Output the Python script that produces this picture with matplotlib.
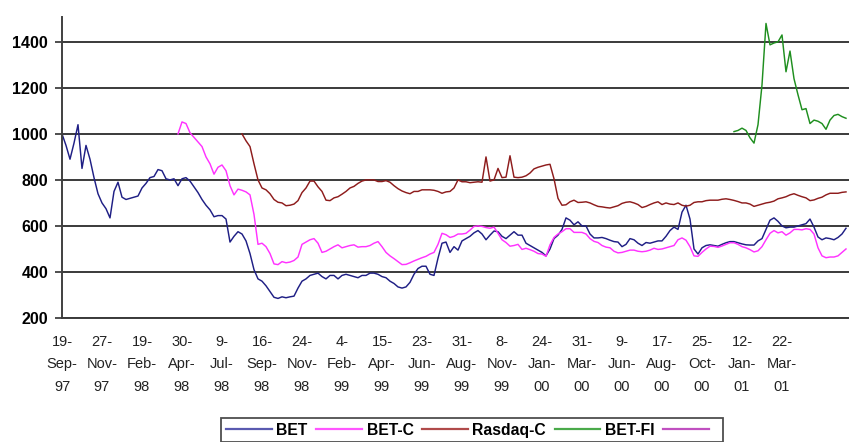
import matplotlib
matplotlib.use("Agg")
import matplotlib.pyplot as plt
from matplotlib.lines import Line2D

plt.rcParams['font.family'] = ['Liberation Sans', 'DejaVu Sans']

# ---- data (index = trading-day sample, 1 unit ~ one week) ----
tick_labels = ["19-\nSep-\n97", "27-\nNov-\n97", "19-\nFeb-\n98", "30-\nApr-\n98", "9-\nJul-\n98",
               "16-\nSep-\n98", "24-\nNov-\n98", "4-\nFeb-\n99", "15-\nApr-\n99", "23-\nJun-\n99",
               "31-\nAug-\n99", "8-\nNov-\n99", "24-\nJan-\n00", "31-\nMar-\n00", "9-\nJun-\n00",
               "17-\nAug-\n00", "25-\nOct-\n00", "12-\nJan-\n01", "22-\nMar-\n01"]
samples_per_label = 10

bet_start = 0
bet = [1000, 950, 890, 960, 1040, 850, 950, 890, 810, 740,
       700, 675, 635, 750, 790, 725, 715, 720, 725, 730,
       765, 785, 810, 815, 845, 840, 805, 800, 805, 775,
       805, 810, 795, 770, 745, 715, 690, 670, 640, 645,
       645, 630, 530, 555, 575, 565, 535, 480, 410, 370,
       360, 340, 315, 290, 285, 292, 288, 292, 295, 330,
       360, 370, 385, 390, 395, 380, 370, 385, 385, 370,
       385, 390, 385, 380, 375, 385, 385, 395, 395, 390,
       380, 375, 360, 350, 335, 330, 335, 355, 390, 415,
       425, 425, 390, 385, 460, 525, 530, 485, 510, 495,
       535, 545, 555, 570, 580, 565, 540, 560, 578, 575,
       555, 545, 560, 575, 560, 560, 525, 515, 505, 495,
       485, 470, 500, 545, 560, 585, 635, 625, 605, 618,
       600, 600, 565, 548, 548, 550, 545, 538, 532, 530,
       510, 520, 545, 540, 525, 515, 528, 525, 530, 535,
       535, 555, 580, 595, 585, 660, 690, 630, 500, 478,
       505, 515, 518, 515, 512, 520, 527, 532, 532, 527,
       522, 518, 517, 517, 535, 545, 585, 625, 635, 620,
       600, 592, 595, 595, 600, 605, 610, 630, 595, 552,
       540, 548, 545, 540, 550, 565, 590]

betc_start = 29
betc = [1000, 1052, 1045, 1005, 985, 965, 945, 900, 870, 825,
        855, 865, 840, 775, 735, 760, 755, 748, 735, 650,
        520, 525, 510, 480, 435, 432, 445, 440, 443, 450,
        465, 520, 530, 540, 545, 525, 485, 490, 500, 510,
        518, 505, 510, 515, 518, 508, 510, 510, 515, 525,
        532, 510, 485, 470, 458, 445, 432, 433, 440, 448,
        455, 462, 468, 478, 485, 520, 568, 562, 550, 555,
        565, 565, 568, 582, 598, 600, 598, 593, 590, 595,
        568, 540, 528, 512, 515, 520, 498, 503, 497, 490,
        480, 478, 468, 518, 550, 565, 575, 588, 588, 572,
        572, 572, 565, 545, 533, 528, 515, 508, 505, 490,
        483, 485, 490, 495, 495, 490, 488, 490, 495, 503,
        498, 500, 505, 510, 515, 540, 548, 538, 510, 470,
        468, 485, 500, 512, 511, 507, 513, 520, 527, 527,
        520, 510, 505, 497, 487, 492, 510, 540, 568, 580,
        570, 575, 560, 570, 585, 585, 583, 588, 585, 565,
        505, 470, 462, 465, 465, 470, 485, 500]

rasdaq_start = 45
rasdaq = [1000, 970, 945, 870, 800, 765, 757, 740, 715, 703,
          700, 688, 690, 695, 710, 745, 765, 795, 795, 770,
          750, 712, 710, 722, 727, 738, 750, 765, 772, 785,
          795, 800, 800, 800, 793, 793, 797, 790, 775, 762,
          752, 745, 740, 750, 750, 757, 757, 757, 755, 750,
          742, 748, 750, 765, 800, 792, 792, 788, 790, 792,
          790, 900, 795, 800, 850, 810, 812, 905, 812, 810,
          812, 818, 830, 848, 855, 860, 865, 868, 805, 720,
          690, 692, 705, 712, 702, 703, 705, 700, 692, 685,
          683, 680, 678, 683, 688, 698, 703, 705, 700, 693,
          680, 685, 693, 700, 705, 693, 700, 695, 693, 700,
          690, 686, 690, 702, 705, 705, 710, 712, 712, 712,
          716, 718, 715, 711, 706, 700, 700, 695, 685, 690,
          695, 700, 703, 708, 718, 722, 727, 735, 740, 733,
          727, 722, 710, 713, 720, 725, 735, 742, 742, 742,
          746, 748]

betfi_start = 168
betfi = [1010, 1015, 1025, 1015, 983, 960, 1040, 1213, 1480, 1387,
         1395, 1400, 1430, 1270, 1360, 1240, 1170, 1105, 1110, 1045,
         1060, 1055, 1045, 1020, 1060, 1080, 1085, 1075, 1068]

series_names = ["BET", "BET-C", "Rasdaq-C", "BET-FI", " "]
line_colors = ["#1f1f85", "#ff33ff", "#8e1c1c", "#1f8f1f", "#c040c0"]
legend_colors = ["#5a5ab0", "#ff55ff", "#b04a4a", "#4aaa4a", "#c050c0"]

y_ticks = [200, 400, 600, 800, 1000, 1200, 1400]

# ---- figure ----
W, H = 849, 442
fig = plt.figure(figsize=(W / 100, H / 100), dpi=100)
ax = fig.add_axes([62 / W, 1 - 318 / H, (W - 62) / W, (318 - 17) / H])

series = [(bet_start, bet), (betc_start, betc), (rasdaq_start, rasdaq), (betfi_start, betfi)]
for (start, vals), col in zip(series, line_colors):
    xs = list(range(start, start + len(vals)))
    ax.plot(xs, vals, color=col, lw=1.05, solid_joinstyle='round')
ax.plot([], [], color=line_colors[4], lw=1.0)

ax.set_ylim(200, 1508)
ax.set_xlim(0, 196.75)
ax.set_yticks(y_ticks)
ax.set_yticklabels([str(v) for v in y_ticks], fontsize=11.5, fontweight='bold')
ax.set_xticks([i * samples_per_label for i in range(len(tick_labels))])
ax.set_xticklabels(tick_labels, fontsize=10.5, linespacing=1.8, color='#222222')
ax.tick_params(axis='x', length=0, pad=12)
ax.tick_params(axis='y', length=5, width=1.3, color='#404040', pad=5)

ax.grid(axis='y', color='#3a3a3a', lw=1.4)
ax.set_axisbelow(True)
for s in ['top', 'right']:
    ax.spines[s].set_visible(False)
ax.spines['left'].set_color('#404040')
ax.spines['left'].set_linewidth(1.4)
ax.spines['bottom'].set_color('#3a3a3a')
ax.spines['bottom'].set_linewidth(1.4)

handles = [Line2D([], [], color=c, lw=1.6) for c in legend_colors]
leg = fig.legend(handles, series_names, loc='upper center', bbox_to_anchor=(472 / W, 1 - 418 / H),
                 borderaxespad=0.0,
                 ncol=5, frameon=True, fancybox=False, borderpad=0.3, handlelength=2.9,
                 handletextpad=0.3, columnspacing=0.55,
                 prop={'weight': 'bold', 'size': 11.3})
leg.get_frame().set_edgecolor('#222222')
leg.get_frame().set_linewidth(1.3)

fig.savefig("out.png", dpi=100)
